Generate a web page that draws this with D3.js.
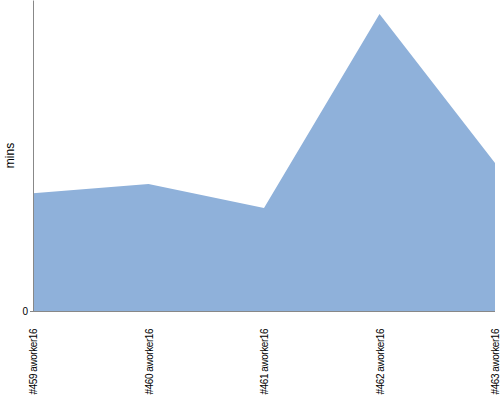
<!DOCTYPE html>
<html><head><meta charset="utf-8">
<script src="https://cdn.jsdelivr.net/npm/d3@7"></script>
<style>body{margin:0;background:#fff}svg{display:block}</style>
</head><body><svg id="c" width="500" height="400"></svg>
<script>
const categories = ["#459 aworker16","#460 aworker16","#461 aworker16","#462 aworker16","#463 aworker16"];
const values = [37.9, 40.8, 33.1, 95.5, 47.6];
const yTicks = [0];

const svg = d3.select("#c");
const m = {left:33, right:5, top:0, bottom:89};
const W = 500, H = 400;
const x = d3.scalePoint().domain(categories).range([m.left, W - m.right]);
const y = d3.scaleLinear().domain([0, 100]).range([H - m.bottom, m.top]);

const area = d3.area().x(d => x(d.c)).y0(y(0)).y1(d => y(d.v));
const data = categories.map((c,i) => ({c, v: values[i]}));
svg.append("path").datum(data).attr("d", area).attr("fill", "#8fb1da");

const ya = svg.append("g").attr("transform", `translate(${m.left},0)`)
  .call(d3.axisLeft(y).tickValues(yTicks).tickSize(3).tickSizeOuter(0).tickFormat(d3.format("d")));
ya.select(".domain").attr("stroke", "#888");
ya.selectAll(".tick line").attr("stroke", "#888");
ya.selectAll(".tick text").attr("font-family", "Liberation Sans, Arial").attr("font-size", 10).attr("fill", "#000").attr("x", -5);

const xa = svg.append("g").attr("transform", `translate(0,${y(0)})`)
  .call(d3.axisBottom(x).tickSize(0).tickSizeOuter(0).tickPadding(0));
xa.select(".domain").attr("stroke", "#888").attr("d", `M${m.left},0.5H${W - m.right}`);
xa.selectAll(".tick text")
  .attr("font-family", "Liberation Sans, Arial")
  .attr("font-size", 10).attr("letter-spacing", -0.45).attr("fill", "#000")
  .attr("text-anchor", "end").attr("dy", "0.35em")
  .attr("transform", "translate(0,18) rotate(-90)").attr("y", 0).attr("x", 0);

svg.append("text").attr("transform", `translate(14,${(H - m.bottom)/2}) rotate(-90)`)
  .attr("text-anchor", "middle").attr("font-family", "Liberation Sans, Arial").attr("font-size", 12)
  .attr("fill", "#000").text("mins");
</script></body></html>
